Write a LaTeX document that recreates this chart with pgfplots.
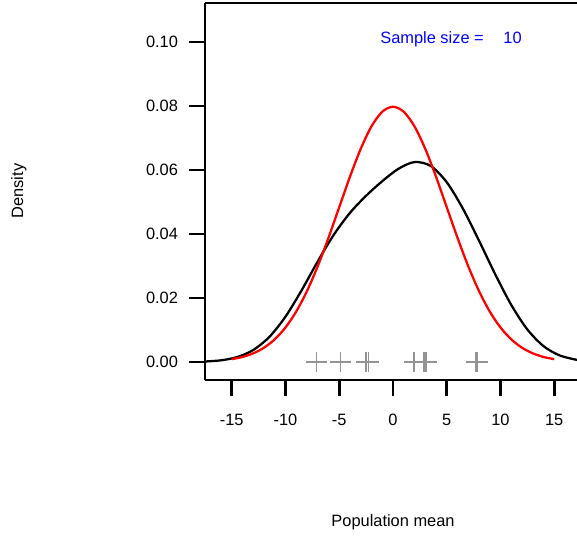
\documentclass[border=0pt]{standalone}
\usepackage{pgfplots}
\pgfplotsset{compat=1.18}
\usepackage{fontspec}
\setmainfont{Liberation Sans}

% density of the sample (black)
\pgfplotstableread{
x y
-17.49 0.000157
-16.0 0.000533
-14.5 0.001537
-13.0 0.003753
-11.5 0.007852
-10.0 0.014191
-8.5 0.022427
-7.0 0.031440
-5.5 0.039813
-4.0 0.046625
-2.5 0.051974
-1.0 0.056502
0.5 0.060372
2.0 0.062492
3.5 0.061289
5.0 0.056187
6.5 0.047950
8.0 0.037948
9.5 0.027501
11.0 0.017867
12.5 0.010170
14.0 0.004978
15.5 0.002067
17.12 0.000655
}\sample

% population density (red)
\pgfplotstableread{
x y
-15 0.000886
-14 0.001583
-13 0.002717
-12 0.004479
-11 0.007095
-10 0.010798
-9 0.015790
-8 0.022184
-7 0.029946
-6 0.038837
-5 0.048394
-4 0.057938
-3 0.066645
-2 0.073654
-1 0.078209
0 0.079788
1 0.078209
2 0.073654
3 0.066645
4 0.057938
5 0.048394
6 0.038837
7 0.029946
8 0.022184
9 0.015790
10 0.010798
11 0.007095
12 0.004479
13 0.002717
14 0.001583
15 0.000886
}\population

\begin{document}
\fontsize{12.3}{14}\selectfont
\begin{tikzpicture}
\useasboundingbox (0pt,0pt) rectangle (432.75pt,402.75pt);
\begin{axis}[
    at={(153.75pt,117.75pt)}, anchor=south west,
    scale only axis,
    width=279pt, height=282.75pt,
    xmin=-17.49, xmax=17.12,
    ymin=-0.005625, ymax=0.1122,
    axis x line*=box, axis y line*=left,
    axis line style={line width=2pt, -},
    tick align=outside,
    major tick length=12pt,
    tick style={line width=2pt, black},
    xtick={-15,-10,...,15},
    ytick={0,0.02,...,0.1},
    xtick pos=bottom, ytick pos=left,
    y tick label style={/pgf/number format/fixed, /pgf/number format/fixed zerofill, /pgf/number format/precision=2, xshift=-4pt},
    /pgf/number format/assume math mode=true,
    xticklabel style={yshift=-9pt},
    xlabel={Population mean},
    ylabel={Density},
    xlabel style={at={(axis description cs:0.5054,-0.3767)}, anchor=center},
    ylabel style={at={(axis description cs:-0.5,0.5013)}, anchor=center},
    clip=true,
]
\addplot[black, line width=1.7pt, smooth] table[x=x,y=y] {\sample};
\addplot[red, line width=1.7pt, smooth] table[x=x,y=y] {\population};
\addplot[only marks, mark=+, mark size=7.8pt, color=gray!85, mark options={line width=1.1pt}] coordinates {
    (-7.10,0) (-4.87,0) (-2.51,0) (-2.26,0) (1.95,0) (2.88,0) (3.00,0) (3.13,0) (7.72,0) (7.84,0)
};
\node[blue, anchor=center] at (axis cs:5.4,0.1009) {Sample size =\hspace{1.2em}10};
\end{axis}
\end{tikzpicture}
\end{document}
